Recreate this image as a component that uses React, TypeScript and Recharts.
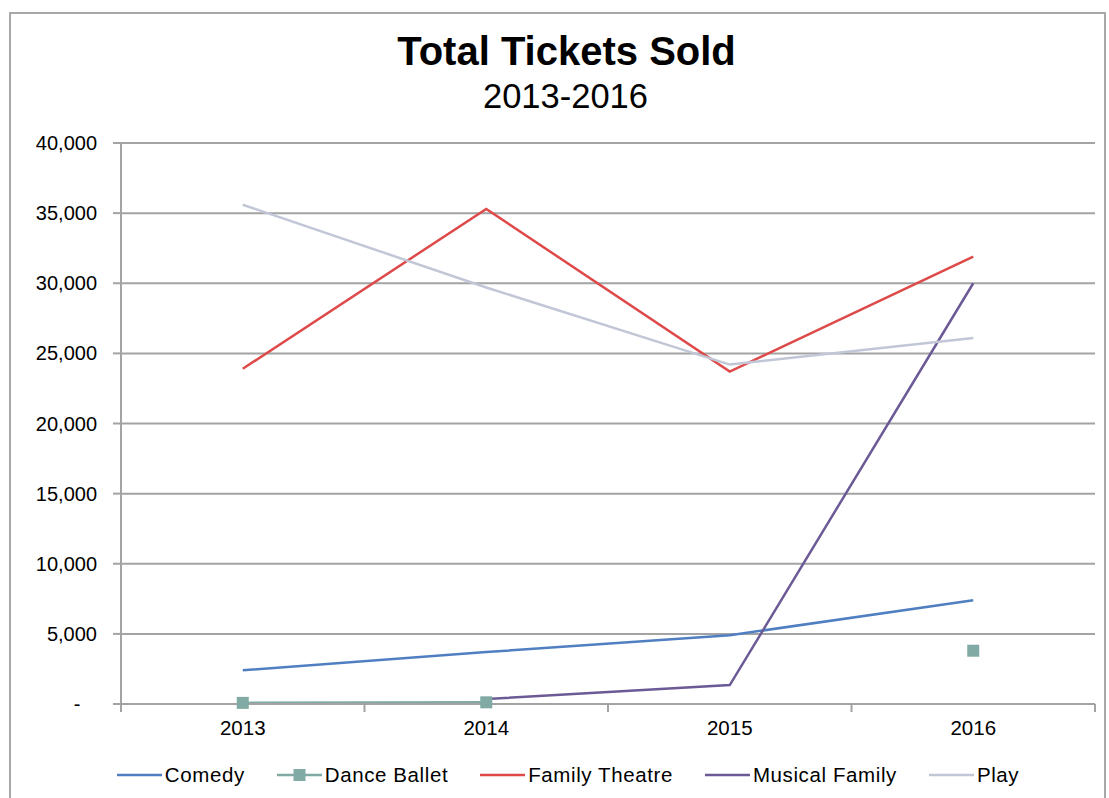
import { LineChart, Line, XAxis, YAxis, CartesianGrid } from 'recharts';

const years = ['2013', '2014', '2015', '2016'];
const comedy = [2400, 3700, 4900, 7400];
const danceBallet = [80, 120, null, 3800];
const familyTheatre = [23900, 35300, 23700, 31900];
const musicalFamily = [null, 350, 1350, 30000];
const play = [35600, 29700, 24200, 26100];
const yTicks = [0, 5000, 10000, 15000, 20000, 25000, 30000, 35000, 40000];

const seriesNames = ['Comedy', 'Dance Ballet', 'Family Theatre', 'Musical Family', 'Play'];
const seriesKeys = ['comedy', 'danceBallet', 'familyTheatre', 'musicalFamily', 'play'];
const seriesColors = ['#4f7fc0', '#80aaa3', '#de4a4a', '#6c5a96', '#c1c7d6'];

const data = years.map((year, i) => ({
  year,
  comedy: comedy[i],
  danceBallet: danceBallet[i],
  familyTheatre: familyTheatre[i],
  musicalFamily: musicalFamily[i],
  play: play[i],
}));

const FONT = '"Liberation Sans", Arial, sans-serif';
const GRID = '#a3a3a3';
const HALF = 121.75; // half a category band

const XTick = ({ x, y, payload, index }: any) => (
  <g>
    <line x1={x - HALF} x2={x - HALF} y1={y} y2={y + 8} stroke={GRID} strokeWidth={2} />
    {index === years.length - 1 && (
      <line x1={x + HALF} x2={x + HALF} y1={y} y2={y + 8} stroke={GRID} strokeWidth={2} />
    )}
    <text x={x} y={y + 31} textAnchor="middle" fill="#000" fontSize={20.5} fontFamily={FONT}>
      {payload.value}
    </text>
  </g>
);

const Square = (props: any) => {
  const { cx, cy, key } = props;
  if (cx == null || cy == null || props.value == null) return <g key={key} />;
  return <rect key={key} x={cx - 6} y={cy - 6} width={12} height={12} fill={seriesColors[1]} />;
};

const yFormat = (v: number) => (v === 0 ? '-\u00a0\u00a0\u00a0' : v.toLocaleString('en-US'));

export default function App() {
  return (
    <div style={{ position: 'absolute', left: 0, top: 0, width: 1109, height: 798, background: '#fff', overflow: 'hidden', fontFamily: FONT }}>
      <div style={{ position: 'absolute', left: 9, top: 12, width: 1093, height: 800, border: '2px solid #a8a8a8' }} />
      <div style={{ position: 'absolute', left: 0, width: 1133, top: 29, textAlign: 'center', fontSize: 40, fontWeight: 'bold', color: '#000' }}>
        Total Tickets Sold
      </div>
      <div style={{ position: 'absolute', left: 0, width: 1131, top: 77, textAlign: 'center', fontSize: 34.5, color: '#000' }}>
        2013-2016
      </div>
      <div style={{ position: 'absolute', left: 0, top: 0 }}>
        <LineChart width={1109} height={798} data={data} margin={{ top: 143, right: 14, bottom: 64, left: 0 }}>
          <CartesianGrid vertical={false} stroke={GRID} strokeWidth={2} />
          <XAxis
            dataKey="year"
            height={30}
            padding={{ left: HALF, right: HALF }}
            tickLine={false}
            tickSize={0}
            tickMargin={0}
            axisLine={{ stroke: GRID, strokeWidth: 2 }}
            tick={<XTick />}
            interval={0}
          />
          <YAxis
            width={121}
            domain={[0, 40000]}
            ticks={yTicks}
            tickFormatter={yFormat}
            tickSize={8}
            tickMargin={16}
            axisLine={{ stroke: GRID, strokeWidth: 2 }}
            tickLine={{ stroke: GRID, strokeWidth: 2 }}
            tick={{ fill: '#000', fontSize: 20, fontFamily: FONT }}
          />
          {seriesKeys.map((k, i) => (
            <Line
              key={k}
              type="linear"
              dataKey={k}
              name={seriesNames[i]}
              stroke={seriesColors[i]}
              strokeWidth={2.5}
              dot={k === 'danceBallet' ? <Square /> : false}
              activeDot={false}
              isAnimationActive={false}
            />
          ))}
        </LineChart>
      </div>
      <div style={{ position: 'absolute', left: 0, width: 1136, top: 763, display: 'flex', justifyContent: 'center', gap: 32, fontSize: 20.5, letterSpacing: 0.6, color: '#000' }}>
        {seriesNames.map((n, i) => (
          <div key={n} style={{ display: 'flex', alignItems: 'center' }}>
            <svg width={45} height={14} style={{ marginRight: 3 }}>
              <line x1={0} x2={45} y1={7} y2={7} stroke={seriesColors[i]} strokeWidth={2.5} />
              {i === 1 && <rect x={16.5} y={1} width={12} height={12} fill={seriesColors[i]} />}
            </svg>
            <span>{n}</span>
          </div>
        ))}
      </div>
    </div>
  );
}
